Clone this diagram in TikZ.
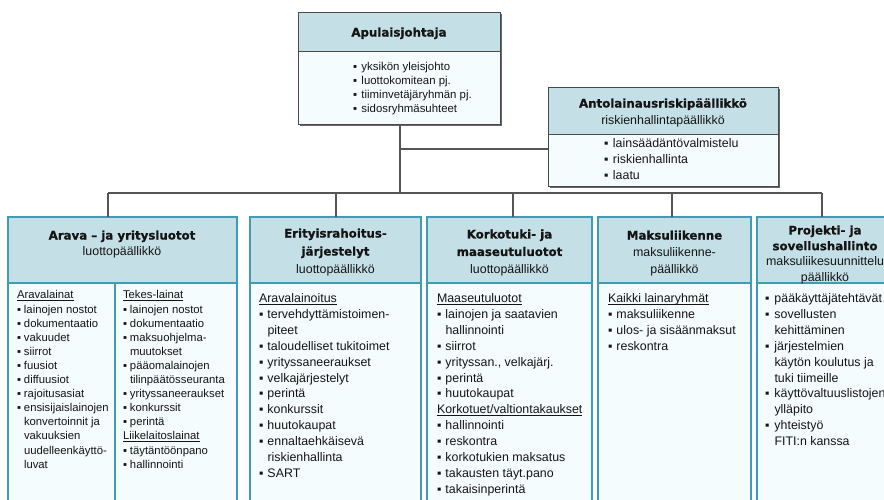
\documentclass[tikz,border=0pt]{standalone}
\usepackage{fontspec}
\setmainfont{Liberation Sans}
\newfontfamily\hdfont{DejaVu Sans}[BoldFeatures={FakeBold=0.8}]
\definecolor{hdfill}{HTML}{C4E0E6}
\definecolor{bdfill}{HTML}{F5FCFD}
\definecolor{colline}{HTML}{3F9DB2}
\definecolor{boxline}{HTML}{4A4A4A}
\definecolor{connline}{HTML}{555555}
\definecolor{txt}{HTML}{141414}
\newlength{\bw}
\newcommand{\bitem}[1]{\strut\makebox[\bw][l]{▪}#1}
\newcommand{\citem}[1]{\strut\hspace*{\bw}#1}
\newcommand{\hitem}[1]{\strut\setbox0\hbox{#1}\rlap{\rule[-1.6pt]{\wd0}{0.6pt}}#1}
\newcommand{\hd}{\hdfont\bfseries\fontsize{11.8}{14}\selectfont}
\newcommand{\sbt}{\fontsize{12.4}{15}\selectfont}
\begin{document}
\begin{tikzpicture}[x=1pt,y=-1pt,
 every node/.style={inner sep=0pt,outer sep=0pt},
 shade/.style={fill=black!60,anchor=north west},
 topbody/.style={draw=boxline,line width=0.9pt,fill=bdfill,anchor=north west},
 tophead/.style={draw=boxline,line width=0.9pt,fill=hdfill,anchor=north west},
 colbody/.style={draw=colline,line width=1.1pt,fill=bdfill,anchor=north west},
 colhead/.style={draw=colline,line width=1.1pt,fill=hdfill,anchor=north west},
 conn/.style={draw=connline,line width=1.3pt},
 divline/.style={draw=colline,line width=1.1pt},
 title/.style={align=center,anchor=north,text=txt},
 listA/.style={align=left,anchor=north west,text=txt,font={\fontsize{11.3}{14.1}\selectfont\setlength{\bw}{7pt}}},
 listB/.style={align=left,anchor=north west,text=txt,font={\fontsize{12.4}{15.9}\selectfont\setlength{\bw}{8.5pt}}},
 listT/.style={align=left,anchor=north west,text=txt,font={\fontsize{11.4}{13.7}\selectfont\setlength{\bw}{8.5pt}}},
 listR/.style={align=left,anchor=north west,text=txt,font={\fontsize{12.4}{16}\selectfont\setlength{\bw}{9pt}}}]
\useasboundingbox (0,0) rectangle (884,499);
\fill[white] (0,0) rectangle (884,499);
\clip (0,0) rectangle (884,499);

% ---- top box
\node[shade,minimum width=202pt,minimum height=112pt] (tops) at (299.5,13.5) {};
\node[topbody,minimum width=202pt,minimum height=112pt] (top) at (298,12) {};
\node[tophead,minimum width=202pt,minimum height=39pt] (toph) at (298,12) {};
% ---- risk box
\node[shade,minimum width=230pt,minimum height=99pt] (risks) at (549.5,88.5) {};
\node[topbody,minimum width=230pt,minimum height=99pt] (risk) at (548,87) {};
\node[tophead,minimum width=230pt,minimum height=47pt] (riskh) at (548,87) {};

% ---- columns
\node[colbody,minimum width=229pt,minimum height=310pt] (c1) at (8,217) {};
\node[colhead,minimum width=229pt,minimum height=66pt] (c1h) at (8,217) {};
\node[colbody,minimum width=171pt,minimum height=310pt] (c2) at (250,217) {};
\node[colhead,minimum width=171pt,minimum height=66pt] (c2h) at (250,217) {};
\node[colbody,minimum width=165pt,minimum height=310pt] (c3) at (427,217) {};
\node[colhead,minimum width=165pt,minimum height=66pt] (c3h) at (427,217) {};
\node[colbody,minimum width=153pt,minimum height=310pt] (c4) at (598,217) {};
\node[colhead,minimum width=153pt,minimum height=66pt] (c4h) at (598,217) {};
\node[colbody,minimum width=143pt,minimum height=310pt] (c5) at (757,217) {};
\node[colhead,minimum width=143pt,minimum height=66pt] (c5h) at (757,217) {};
\coordinate (c1div) at (115,283);
\draw[divline] (c1div) -- (c1div |- c1.south);

% ---- connectors
\coordinate (br) at (400,149);
\coordinate (b1) at (108,193);
\coordinate (b2) at (336,193);
\coordinate (b3) at (513,193);
\coordinate (b4) at (672,193);
\coordinate (b5) at (822,193);
\draw[conn] (top.south -| br) -- (br |- b1);
\draw[conn] (br) -- (br -| risk.west);
\draw[conn] (b1) -- (b5);
\draw[conn] (b1) -- (b1 |- c1.north);
\draw[conn] (b2) -- (b2 |- c2.north);
\draw[conn] (b3) -- (b3 |- c3.north);
\draw[conn] (b4) -- (b4 |- c4.north);
\draw[conn] (b5) -- (b5 |- c5.north);

% ---- titles
\node[title,font={\fontsize{12}{16}\selectfont}] (topt) at (399,25.3) {\strut{\hd Apulaisjohtaja}};
\node[title,font={\fontsize{12}{17}\selectfont}] (riskt) at (663,95.6) {\strut{\hd Antolainausriskipäällikkö}\\\strut{\sbt riskienhallintapäällikkö}};
\node[title,font={\fontsize{12}{16}\selectfont}] (c1t) at (122,228.3) {\strut{\hd Arava – ja yritysluotot}\\\strut{\sbt luottopäällikkö}};
\node[title,font={\fontsize{12}{18}\selectfont}] (c2t) at (335.5,224.9) {\strut{\hd Erityisrahoitus-}\\\strut{\hd järjestelyt}\\\strut{\sbt luottopäällikkö}};
\node[title,font={\fontsize{12}{17.5}\selectfont}] (c3t) at (509.5,226.2) {\strut{\hd Korkotuki- ja}\\\strut{\hd maaseutuluotot}\\\strut{\sbt luottopäällikkö}};
\node[title,font={\fontsize{12}{17}\selectfont}] (c4t) at (674.5,227.6) {\strut{\hd Maksuliikenne}\\\strut{\sbt maksuliikenne-}\\\strut{\sbt päällikkö}};
\node[title,font={\fontsize{12}{15.7}\selectfont}] (c5t) at (825,223.5) {\strut{\hd Projekti- ja}\\\strut{\hd sovellushallinto}\\\strut{\sbt maksuliikesuunnittelu}\\\strut{\sbt päällikkö}};

% ---- lists
\node[listT] (topl) at (353,61.4) {\bitem{yksikön yleisjohto}\\\bitem{luottokomitean pj.}\\\bitem{tiiminvetäjäryhmän pj.}\\\bitem{sidosryhmäsuhteet}};
\node[listR] (riskl) at (604,135.8) {\bitem{lainsäädäntövalmistelu}\\\bitem{riskienhallinta}\\\bitem{laatu}};

\node[listA] (c1a) at (17,289.1) {\hitem{Aravalainat}\\\bitem{lainojen nostot}\\\bitem{dokumentaatio}\\\bitem{vakuudet}\\\bitem{siirrot}\\\bitem{fuusiot}\\\bitem{diffuusiot}\\\bitem{rajoitusasiat}\\\bitem{ensisijaislainojen}\\\citem{konvertoinnit ja}\\\citem{vakuuksien}\\\citem{uudelleenkäyttö-}\\\citem{luvat}};
\node[listA] (c1b) at (123,289.1) {\hitem{Tekes-lainat}\\\bitem{lainojen nostot}\\\bitem{dokumentaatio}\\\bitem{maksuohjelma-}\\\citem{muutokset}\\\bitem{pääomalainojen}\\\citem{tilinpäätösseuranta}\\\bitem{yrityssaneeraukset}\\\bitem{konkurssit}\\\bitem{perintä}\\\hitem{Liikelaitoslainat}\\\bitem{täytäntöönpano}\\\bitem{hallinnointi}};

\node[listB] (c2l) at (259,291.4) {\hitem{Aravalainoitus}\\\bitem{tervehdyttämistoimen-}\\\citem{piteet}\\\bitem{taloudelliset tukitoimet}\\\bitem{yrityssaneeraukset}\\\bitem{velkajärjestelyt}\\\bitem{perintä}\\\bitem{konkurssit}\\\bitem{huutokaupat}\\\bitem{ennaltaehkäisevä}\\\citem{riskienhallinta}\\\bitem{SART}};

\node[listB] (c3l) at (437,291.4) {\hitem{Maaseutuluotot}\\\bitem{lainojen ja saatavien}\\\citem{hallinnointi}\\\bitem{siirrot}\\\bitem{yrityssan., velkajärj.}\\\bitem{perintä}\\\bitem{huutokaupat}\\\hitem{Korkotuet/valtiontakaukset}\\\bitem{hallinnointi}\\\bitem{reskontra}\\\bitem{korkotukien maksatus}\\\bitem{takausten täyt.pano}\\\bitem{takaisinperintä}};

\node[listB] (c4l) at (608,291.4) {\hitem{Kaikki lainaryhmät}\\\bitem{maksuliikenne}\\\bitem{ulos- ja sisäänmaksut}\\\bitem{reskontra}};

\node[listB,font={\fontsize{12.4}{15.9}\selectfont\setlength{\bw}{9.5pt}}] (c5l) at (765,291.4) {\bitem{pääkäyttäjätehtävät}\\\bitem{sovellusten}\\\citem{kehittäminen}\\\bitem{järjestelmien}\\\citem{käytön koulutus ja}\\\citem{tuki tiimeille}\\\bitem{käyttövaltuuslistojen}\\\citem{ylläpito}\\\bitem{yhteistyö}\\\citem{FITI:n kanssa}};
\end{tikzpicture}
\end{document}
